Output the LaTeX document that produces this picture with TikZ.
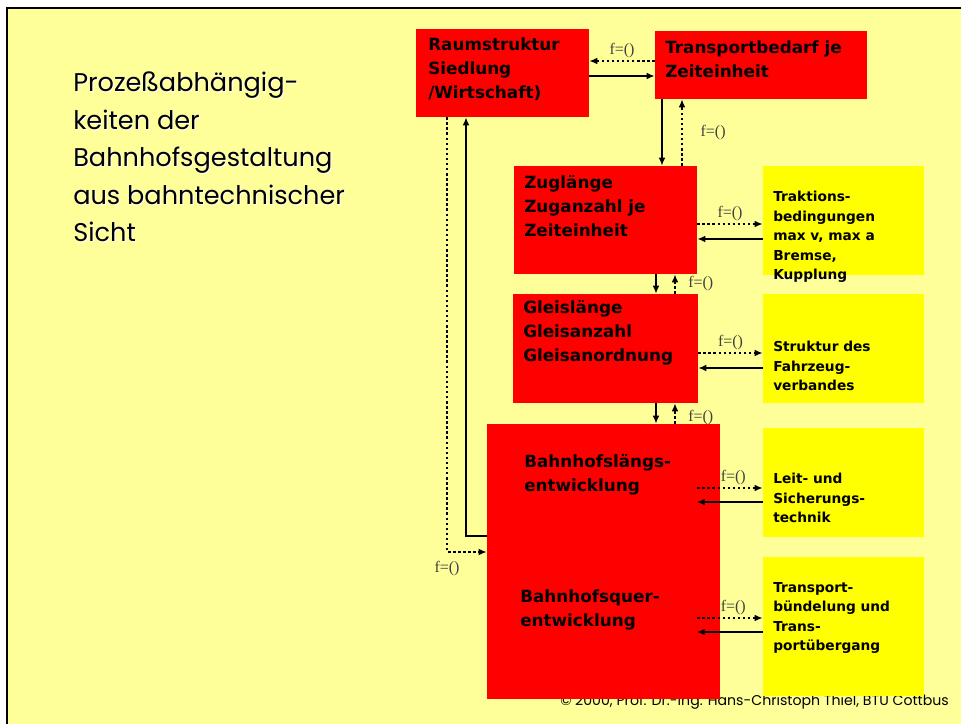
\documentclass[tikz,border=0pt]{standalone}
\usepackage{fontspec}
\setmainfont{Poppins}
\newfontfamily\boxfont{DejaVu Sans}
\newfontfamily\labfont{Liberation Serif}
\usetikzlibrary{fit, arrows.meta}

\definecolor{paleyellow}{HTML}{FFFF99}
\definecolor{boxred}{HTML}{FF0000}
\definecolor{boxyellow}{HTML}{FFFF00}

\begin{document}
\begin{tikzpicture}[
  x=0.75pt, y=-0.75pt,
  redbox/.style={fill=boxred, inner sep=0pt},
  yellowbox/.style={fill=boxyellow, inner sep=0pt},
  redtext/.style={anchor=west, align=left, inner sep=0pt,
    font=\boxfont\bfseries\fontsize{12.6}{18}\selectfont},
  yellowtext/.style={anchor=west, align=left, inner sep=0pt,
    font=\boxfont\bfseries\fontsize{10.3}{14.6}\selectfont},
  flabel/.style={font=\labfont\fontsize{12}{13}\selectfont, text=black!75, inner sep=1pt},
  solidarrow/.style={-{Latex[length=6pt, width=5pt]}, line width=1.9pt},
  dotarrow/.style={-{Latex[length=6pt, width=5pt]}, line width=1.9pt,
    dash pattern=on 1.9pt off 1.9pt}
]
  \useasboundingbox (0,0) rectangle (961,724);
  \fill[white] (0,0) rectangle (961,724);
  \fill[paleyellow] (7,8) rectangle (961,724);
  \draw[line width=1.6pt] (961,8) -- (7,8) -- (7,724);

  % title
  \node[anchor=west, align=left, inner sep=0pt, text=white,
    font=\fontsize{19.2}{28.1}\selectfont] (titleshadow) at (74,158)
    {Prozeßabhängig-\\keiten der\\Bahnhofsgestaltung\\aus bahntechnischer\\Sicht};
  \node[anchor=west, align=left, inner sep=0pt,
    font=\fontsize{19.2}{28.1}\selectfont] (title) at (73,157)
    {Prozeßabhängig-\\keiten der\\Bahnhofsgestaltung\\aus bahntechnischer\\Sicht};

  % footer (partly covered by the boxes)
  \node[anchor=base west, inner sep=0pt, font=\fontsize{10.6}{13}\selectfont] (footer)
    at (560,705) {© 2000, Prof. Dr.-Ing. Hans-Christoph Thiel, BTU Cottbus};

  % boxes
  \node[redbox, fit={(416,29) (589,117)}] (raum) {};
  \node[redbox, fit={(655,31) (867,99)}] (trans) {};
  \node[redbox, fit={(514,166) (697,274)}] (zug) {};
  \node[redbox, fit={(513,294) (698,403)}] (gleis) {};
  \node[redbox, fit={(487,424) (720,699)}] (bhf) {};
  \node[yellowbox, fit={(763,166) (924,275)}] (trakt) {};
  \node[yellowbox, fit={(763,294) (924,403)}] (struk) {};
  \node[yellowbox, fit={(763,428) (924,537)}] (leit) {};
  \node[yellowbox, fit={(763,557) (924,696)}] (tbund) {};

  \node[redtext] (raumtxt) at (428,69) {Raumstruktur\\Siedlung\\/Wirtschaft)};
  \node[redtext] (transtxt) at (665,59) {Transportbedarf je\\Zeiteinheit};
  \node[redtext] (zugtxt) at (524,206) {Zuglänge\\Zuganzahl je\\Zeiteinheit};
  \node[redtext] (gleistxt) at (523,333) {Gleislänge\\Gleisanzahl\\Gleisanordnung};
  \node[redtext] (laengstxt) at (524,475) {Bahnhofslängs-\\entwicklung};
  \node[redtext] (quertxt) at (520,610) {Bahnhofsquer-\\entwicklung};

  \node[yellowtext] (trakttxt) at (773,237) {Traktions-\\bedingungen\\max v, max a\\Bremse,\\Kupplung};
  \node[yellowtext] (struktxt) at (773,366) {Struktur des\\Fahrzeug-\\verbandes};
  \node[yellowtext] (leittxt) at (773,498) {Leit- und\\Sicherungs-\\technik};
  \node[yellowtext] (tbundtxt) at (773,618) {Transport-\\bündelung und\\Trans-\\portübergang};

  % connectors
  \draw[dotarrow] (trans.west |- 0,61) -- (raum.east |- 0,61)
    node[midway, above, flabel] {f=()};
  \draw[solidarrow] (raum.east |- 0,76) -- (trans.west |- 0,76);

  \draw[solidarrow] (trans.south -| 662,0) -- (zug.north -| 662,0);
  \draw[dotarrow] (zug.north -| 682,0) -- (trans.south -| 682,0)
    node[midway, right=12, flabel] {f=()};

  \draw[solidarrow] (zug.south -| 656,0) -- (gleis.north -| 656,0);
  \draw[dotarrow] (gleis.north -| 675,0) -- (zug.south -| 675,0)
    node[midway, right=8, flabel] {f=()};

  \draw[solidarrow] (gleis.south -| 656,0) -- (bhf.north -| 656,0);
  \draw[dotarrow] (bhf.north -| 675,0) -- (gleis.south -| 675,0)
    node[pos=0.3, right=8, flabel] {f=()};

  \draw[dotarrow] (zug.east |- 0,224) -- (trakt.west |- 0,224)
    node[midway, above, flabel] {f=()};
  \draw[solidarrow] (trakt.west |- 0,239) -- (zug.east |- 0,239);

  \draw[dotarrow] (gleis.east |- 0,353) -- (struk.west |- 0,353)
    node[midway, above, flabel] {f=()};
  \draw[solidarrow] (struk.west |- 0,368) -- (gleis.east |- 0,368);

  \draw[dotarrow] (bhf.east |- 0,488) ++(-23,0) -- (leit.west |- 0,488)
    node[pos=0.55, above, flabel] {f=()};
  \draw[solidarrow] (leit.west |- 0,502) -- ++(-66,0);

  \draw[dotarrow] (bhf.east |- 0,618) ++(-23,0) -- (tbund.west |- 0,618)
    node[pos=0.55, above, flabel] {f=()};
  \draw[solidarrow] (tbund.west |- 0,632) -- ++(-66,0);

  % feedback loop on the left
  \draw[solidarrow] (bhf.west |- 0,536) -| (raum.south -| 466,0);
  \draw[dotarrow] (raum.south -| 447,0) |- (bhf.west |- 0,552)
    node[pos=0.5, below=5, flabel] {f=()};

\end{tikzpicture}
\end{document}
